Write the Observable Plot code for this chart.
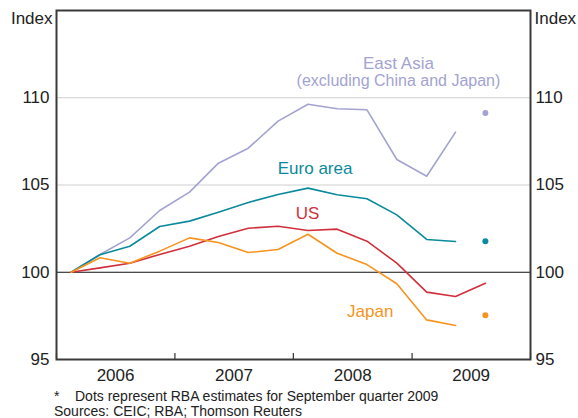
<!DOCTYPE html>
<html>
<head>
<meta charset="utf-8">
<script src="https://cdn.jsdelivr.net/npm/d3@7"></script>
<script src="https://cdn.jsdelivr.net/npm/@observablehq/plot@0.6"></script>
<style>
  html, body { margin: 0; padding: 0; background: #fff; }
  #wrap { position: relative; width: 578px; height: 418px; font-family: "Liberation Sans", Arial, sans-serif; color: #222; }
  #chart { position: absolute; left: 0; top: 0; }
  #notes { position: absolute; left: 54px; top: 389px; font-size: 14px; line-height: 15px; color: #222; white-space: nowrap; }
  #notes .star { display: inline-block; width: 21px; }
</style>
</head>
<body>
<div id="wrap">
  <div id="chart"></div>
  <div id="notes">
    <div><span class="star">*</span>Dots represent RBA estimates for September quarter 2009</div>
    <div>Sources: CEIC; RBA; Thomson Reuters</div>
  </div>
</div>
<script>
// Quarterly observations (plotted at mid-quarter)
const quarters = ["2006-Q1","2006-Q2","2006-Q3","2006-Q4","2007-Q1","2007-Q2","2007-Q3","2007-Q4",
                  "2008-Q1","2008-Q2","2008-Q3","2008-Q4","2009-Q1","2009-Q2","2009-Q3"];
const eastAsia = [100, 101.02, 101.97, 103.54, 104.59, 106.25, 107.11, 108.66, 109.63, 109.37, 109.31, 106.46, 105.50, 108.03];
const euroArea = [100, 101.00, 101.49, 102.62, 102.93, 103.44, 104.00, 104.46, 104.82, 104.44, 104.21, 103.29, 101.88, 101.76];
const us       = [100, 100.25, 100.52, 101.02, 101.49, 102.05, 102.52, 102.64, 102.39, 102.47, 101.78, 100.52, 98.86, 98.61, 99.37];
const japan    = [100, 100.83, 100.52, 101.21, 101.97, 101.70, 101.13, 101.30, 102.18, 101.09, 100.44, 99.34, 97.27, 96.95];

// RBA estimates for September quarter 2009 (dots)
const estimateQuarter = "2009-Q3";
const estimateSeries = ["East Asia", "Euro area", "Japan"];
const estimateValues = [109.12, 101.78, 97.54];

const seriesNames = ["East Asia", "Euro area", "US", "Japan"];
const seriesValues = [eastAsia, euroArea, us, japan];
const seriesColors = ["#a3a3d1", "#0a8a9c", "#d0303c", "#f7931e"];

const yTicks = [95, 100, 105, 110];
const yearLabels = ["2006", "2007", "2008", "2009"];

// Series labels: text and anchor point (quarter-date, index value)
const labelTexts  = ["East Asia", "(excluding China and Japan)", "Euro area", "US", "Japan"];
const labelSeries = ["East Asia", "East Asia", "Euro area", "US", "Japan"];
const labelDates  = ["2008-11-20", "2008-11-20", "2008-03-08", "2008-02-14", "2008-08-25"];
const labelValues = [111.97, 110.99, 105.95, 103.37, 97.72];
const labelSizes  = [17, 16, 17, 17, 17];

const qDate = q => new Date(+q.slice(0, 4), (+q.slice(6) - 1) * 3 + 1, 15);
const colorOf = name => seriesColors[seriesNames.indexOf(name)];

const rows = seriesNames.flatMap((name, i) =>
  seriesValues[i].map((v, j) => ({series: name, date: qDate(quarters[j]), value: v})));
const dots = estimateSeries.map((name, i) => ({series: name, date: qDate(estimateQuarter), value: estimateValues[i]}));
const labels = labelTexts.map((t, i) => ({text: t, series: labelSeries[i], date: new Date(labelDates[i]), value: labelValues[i], size: labelSizes[i]}));
const yearStarts = yearLabels.map(y => new Date(+y, 0, 1)).concat([new Date(+yearLabels[yearLabels.length - 1] + 1, 0, 1)]);
const yearMids = yearLabels.map(y => ({date: new Date(+y, 6, 2), text: y}));

const font = "Liberation Sans, Arial, sans-serif";

const chart = Plot.plot({
  width: 578,
  height: 389,
  marginTop: 10,
  marginBottom: 30,
  marginLeft: 56,
  marginRight: 48,
  style: {fontFamily: font, fontSize: "17px", color: "#222", background: "#fff"},
  x: {type: "time", domain: [yearStarts[0], yearStarts[yearStarts.length - 1]], axis: null},
  y: {domain: [95, 115], axis: null},
  marks: [
    Plot.ruleY([105, 110], {stroke: "#cfcfcf", strokeWidth: 1.2}),
    Plot.ruleY([100], {stroke: "#111", strokeWidth: 1}),
    ...seriesNames.map(name =>
      Plot.line(rows.filter(d => d.series === name), {x: "date", y: "value", stroke: colorOf(name), strokeWidth: 1.6})),
    Plot.dot(dots, {x: "date", y: "value", fill: d => colorOf(d.series), r: 3, stroke: "none"}),
    ...labels.map(l => Plot.text([l], {x: "date", y: "value", text: "text", fill: colorOf(l.series), fontSize: l.size, textAnchor: "middle", lineAnchor: "middle"})),
    Plot.ruleX(yearStarts, {x: d => d, y1: 95, y2: 95, insetTop: -6, stroke: "#333", strokeWidth: 1.2}),
    Plot.frame({stroke: "#3a3a3a", strokeWidth: 2}),
    Plot.axisY(yTicks, {anchor: "left", tickSize: 0, tickPadding: 7, label: null, fontSize: 17, fill: "#222"}),
    Plot.axisY(yTicks, {anchor: "right", tickSize: 0, tickPadding: 5, label: null, fontSize: 17, fill: "#222"}),
    Plot.text(["Index"], {frameAnchor: "top-left", textAnchor: "end", lineAnchor: "middle", dx: -4, dy: 8, fontSize: 17, fill: "#222"}),
    Plot.text(["Index"], {frameAnchor: "top-right", textAnchor: "start", lineAnchor: "middle", dx: 4, dy: 8, fontSize: 17, fill: "#222"}),
    Plot.text(yearMids, {x: "date", text: "text", frameAnchor: "bottom", lineAnchor: "middle", dy: 16, fontSize: 17, fill: "#222"})
  ]
});
document.getElementById("chart").appendChild(chart);
</script>
</body>
</html>
